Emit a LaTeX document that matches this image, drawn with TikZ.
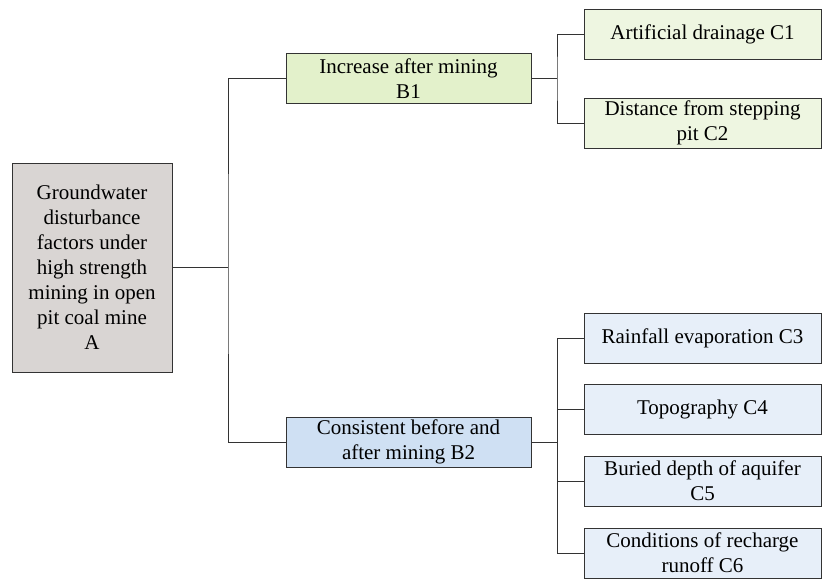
\documentclass[tikz,border=0pt]{standalone}
\usepackage{fontspec}
\setmainfont{Liberation Serif}
\usetikzlibrary{positioning, calc}
\definecolor{cEdge}{HTML}{333333}
\definecolor{cRoot}{HTML}{D9D5D3}
\definecolor{cGreenMid}{HTML}{E3F1CB}
\definecolor{cGreenLeaf}{HTML}{EEF6E1}
\definecolor{cBlueMid}{HTML}{CFE0F3}
\definecolor{cBlueLeaf}{HTML}{E7EFF9}
\tikzset{
  rootbox/.style={
    draw=cEdge, fill=cRoot, line width=0.9pt,
    minimum width=160pt, minimum height=209pt,
    font=\fontsize{21}{25}\selectfont, align=center, inner sep=1pt,
  },
  midbox/.style={
    draw=cEdge, fill=#1, line width=0.9pt,
    minimum width=245pt, minimum height=50pt,
    font=\fontsize{21}{25}\selectfont, align=center, inner sep=1pt,
  },
  leafbox/.style={
    draw=cEdge, fill=#1, line width=0.9pt,
    minimum width=237pt, minimum height=50pt,
    font=\fontsize{21}{25}\selectfont, align=center, inner sep=1pt,
  },
  link/.style={draw=cEdge, line width=0.9pt},
}
\begin{document}
\begin{tikzpicture}[x=1pt, y=-1pt]
  \useasboundingbox (0,0) rectangle (822,579);

  % Goal level
  \node[rootbox] (A) at (92,267.5)
    {Groundwater\\disturbance\\factors under\\high strength\\mining in open\\pit coal mine\\A};

  % Criterion level
  \node[midbox=cGreenMid] (B1) at (408.5,78.5) {Increase after mining\\B1};
  \node[midbox=cBlueMid] (B2) at (408.5,442) {Consistent before and\\after mining B2};

  % Index level
  \node[leafbox=cGreenLeaf] (C1) at (702.5,34) {Artificial drainage C1};
  \node[leafbox=cGreenLeaf] (C2) at (702.5,123) {Distance from stepping\\pit C2};
  \node[leafbox=cBlueLeaf] (C3) at (702.5,338) {Rainfall evaporation C3};
  \node[leafbox=cBlueLeaf] (C4) at (702.5,409) {Topography C4};
  \node[leafbox=cBlueLeaf] (C5) at (702.5,481) {Buried depth of aquifer\\C5};
  \node[leafbox=cBlueLeaf] (C6) at (702.5,553) {Conditions of recharge\\runoff C6};

  % Branch points
  \coordinate (tA) at (228,267.5);
  \coordinate (tB1) at (557,78.5);
  \coordinate (tB2) at (557,442);

  % Connectors
  \draw[link] (A.east) -- (tA);
  \draw[link] (B1.west) -| (tA) |- (B2.west);
  \draw[link] (B1.east) -- (tB1);
  \draw[link] (C1.west) -| (tB1) |- (C2.west);
  \draw[link] (B2.east) -- (tB2);
  \foreach \i in {3,...,6} {
    \draw[link] (tB2) |- (C\i.west);
  }
\end{tikzpicture}
\end{document}
